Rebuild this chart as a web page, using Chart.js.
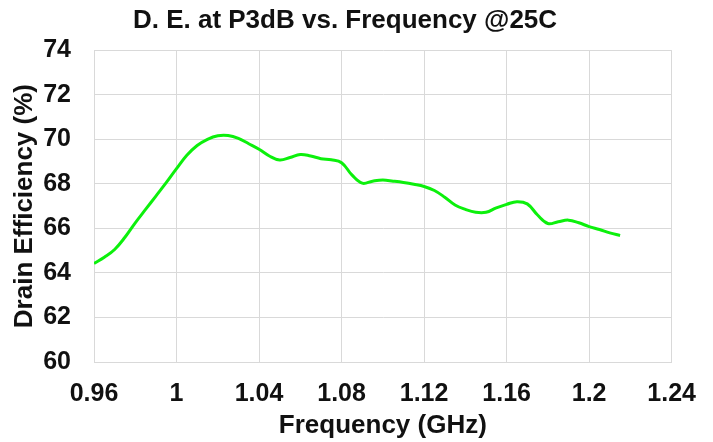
<!DOCTYPE html>
<html>
<head>
<meta charset="utf-8">
<script src="https://cdn.jsdelivr.net/npm/chart.js@4/dist/chart.umd.min.js"></script>
<style>
  html, body { margin: 0; padding: 0; background: #fff; }
  #wrap { width: 713px; height: 442px; }
</style>
</head>
<body>
<div id="wrap"><canvas id="c" width="713" height="442"></canvas></div>
<script>
// Drain efficiency at P3dB across frequency, 25 C
const frequencyGHz = [
  0.960, 0.965, 0.970, 0.975, 0.980, 0.985, 0.990, 0.995, 1.000, 1.005,
  1.010, 1.015, 1.020, 1.025, 1.030, 1.035, 1.040, 1.045, 1.050, 1.055,
  1.060, 1.065, 1.070, 1.075, 1.080, 1.085, 1.090, 1.095, 1.100, 1.105,
  1.110, 1.115, 1.120, 1.125, 1.130, 1.135, 1.140, 1.145, 1.150, 1.155,
  1.160, 1.165, 1.170, 1.175, 1.180, 1.185, 1.190, 1.195, 1.200, 1.205,
  1.210, 1.215
];
const drainEfficiency = [
  64.42, 64.70, 65.05, 65.60, 66.25, 66.85, 67.45, 68.05, 68.68, 69.28,
  69.72, 70.00, 70.16, 70.17, 70.04, 69.80, 69.55, 69.25, 69.07, 69.18,
  69.32, 69.25, 69.13, 69.08, 68.95, 68.40, 68.03, 68.12, 68.17, 68.12,
  68.06, 67.98, 67.88, 67.70, 67.40, 67.05, 66.85, 66.72, 66.72, 66.92,
  67.08, 67.20, 67.10, 66.60, 66.22, 66.30, 66.37, 66.25, 66.08, 65.95,
  65.80, 65.68
];
const xTicks = [0.96, 1.00, 1.04, 1.08, 1.12, 1.16, 1.20, 1.24];
const yTicks = [60, 62, 64, 66, 68, 70, 72, 74];

const FONT = "'Liberation Sans', Arial, sans-serif";
const TEXT = '#111111';
const GRID = '#d9d9d9';

const points = frequencyGHz.map((f, i) => ({ x: f, y: drainEfficiency[i] }));
const fmt = v => String(Number(v.toFixed(2)));

new Chart(document.getElementById('c'), {
  type: 'line',
  data: {
    datasets: [{
      data: points,
      borderColor: '#0cf00c',
      borderWidth: 3,
      pointRadius: 0,
      tension: 0.4,
      fill: false
    }]
  },
  options: {
    responsive: false,
    animation: false,
    layout: { padding: { left: 17, right: 40, top: 0, bottom: 0 } },
    plugins: {
      legend: { display: false },
      tooltip: { enabled: false },
      title: {
        display: true,
        text: 'D. E. at P3dB vs. Frequency @25C',
        color: TEXT,
        font: { family: FONT, size: 26, weight: 'bold' },
        padding: { top: 5, bottom: 14 }
      }
    },
    scales: {
      x: {
        type: 'linear',
        min: xTicks[0],
        max: xTicks[xTicks.length - 1],
        afterBuildTicks: s => { s.ticks = xTicks.map(v => ({ value: v })); },
        afterFit: s => { s.height = 80; },
        grid: { color: GRID, lineWidth: 1, drawTicks: false },
        border: { color: GRID },
        ticks: {
          color: TEXT,
          padding: 17,
          maxRotation: 0,
          autoSkip: false,
          font: { family: FONT, size: 25, weight: 'bold' },
          callback: v => fmt(v)
        },
        title: {
          display: true,
          text: 'Frequency (GHz)',
          color: TEXT,
          font: { family: FONT, size: 26, weight: 'bold' },
          padding: { top: 0, bottom: 1 }
        }
      },
      y: {
        type: 'linear',
        min: yTicks[0],
        max: yTicks[yTicks.length - 1],
        afterBuildTicks: s => { s.ticks = yTicks.map(v => ({ value: v })); },
        afterFit: s => { s.width = 77; },
        grid: { color: GRID, lineWidth: 1, drawTicks: false },
        border: { color: GRID },
        ticks: {
          color: TEXT,
          padding: 23,
          font: { family: FONT, size: 25, weight: 'bold' },
          callback: v => fmt(v)
        },
        title: {
          display: true,
          text: 'Drain Efficiency (%)',
          color: TEXT,
          font: { family: FONT, size: 26, weight: 'bold' },
          padding: { top: -8, bottom: 0 }
        }
      }
    }
  }
});
</script>
</body>
</html>
